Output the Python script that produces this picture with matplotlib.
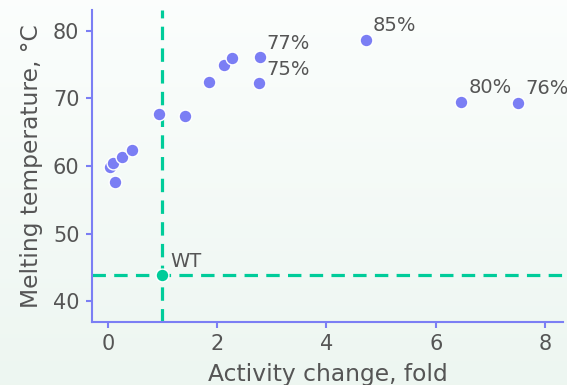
import numpy as np
import matplotlib
matplotlib.use('Agg')
import matplotlib.pyplot as plt

# variants: activity change (fold) vs melting temperature
activity = [0.04, 0.10, 0.13, 0.25, 0.45, 0.93, 1.41, 1.85, 2.12, 2.28, 2.78, 2.77, 4.72, 6.47, 7.51]
tm = [59.9, 60.4, 57.6, 61.3, 62.4, 67.7, 67.4, 72.4, 74.9, 76.0, 76.1, 72.3, 78.7, 69.5, 69.4]
labels = ['', '', '', '', '', '', '', '', '', '', '77%', '75%', '85%', '80%', '76%']

wt_activity = 1.0
wt_tm = 43.8

xticks = [0, 2, 4, 6, 8]
yticks = [40, 50, 60, 70, 80]

purple = '#7b7ef4'
green = '#00cc9a'
grey = '#555555'

plt.rcParams['font.family'] = ['DejaVu Sans']
plt.rcParams['font.size'] = 15

fig = plt.figure(figsize=(5.67, 3.85), dpi=100)

# soft vertical background gradient
bg = fig.add_axes([0, 0, 1, 1], zorder=-10)
grad = np.linspace(0, 1, 256).reshape(-1, 1)
c_top = np.array([0.985, 0.995, 0.99])
c_bot = np.array([0.93, 0.965, 0.945])
img = c_top + (c_bot - c_top) * grad[:, :, None]
bg.imshow(img, aspect='auto', extent=[0, 1, 0, 1])
bg.axis('off')

ax = fig.add_axes([92 / 567, 1 - 322 / 385, (563 - 92) / 567, (322 - 10) / 385])
ax.patch.set_alpha(0)

ax.axvline(wt_activity, color=green, lw=2.3, dashes=(4.2, 2.6), zorder=1)
ax.axhline(wt_tm, color=green, lw=2.3, dashes=(4.2, 2.6), zorder=1)

ax.scatter(activity, tm, s=85, color=purple, edgecolor='white', linewidth=1, zorder=3)
ax.scatter([wt_activity], [wt_tm], s=85, color=green, edgecolor='white', linewidth=1, zorder=3)

for x, y, lab in zip(activity, tm, labels):
    if lab:
        ax.annotate(lab, (x, y), xytext=(5, 10), textcoords='offset points',
                    ha='left', va='center', color=grey, fontsize=14)
ax.annotate('WT', (wt_activity, wt_tm), xytext=(6, 10), textcoords='offset points',
            ha='left', va='center', color=grey, fontsize=14)

ax.set_xlim(-0.29, 8.33)
ax.set_ylim(36.9, 83.1)
ax.set_xticks(xticks)
ax.set_yticks(yticks)

for side in ['top', 'right']:
    ax.spines[side].set_visible(False)
for side in ['left', 'bottom']:
    ax.spines[side].set_color(purple)
    ax.spines[side].set_linewidth(1.5)
ax.tick_params(colors=purple, labelcolor=grey, length=4, width=1.5, pad=5)

ax.set_xlabel('Activity change, fold', color=grey, fontsize=16.8, labelpad=6)
ax.set_ylabel('Melting temperature, °C', color=grey, fontsize=16.8, labelpad=7)

fig.savefig('out.png', dpi=100)
